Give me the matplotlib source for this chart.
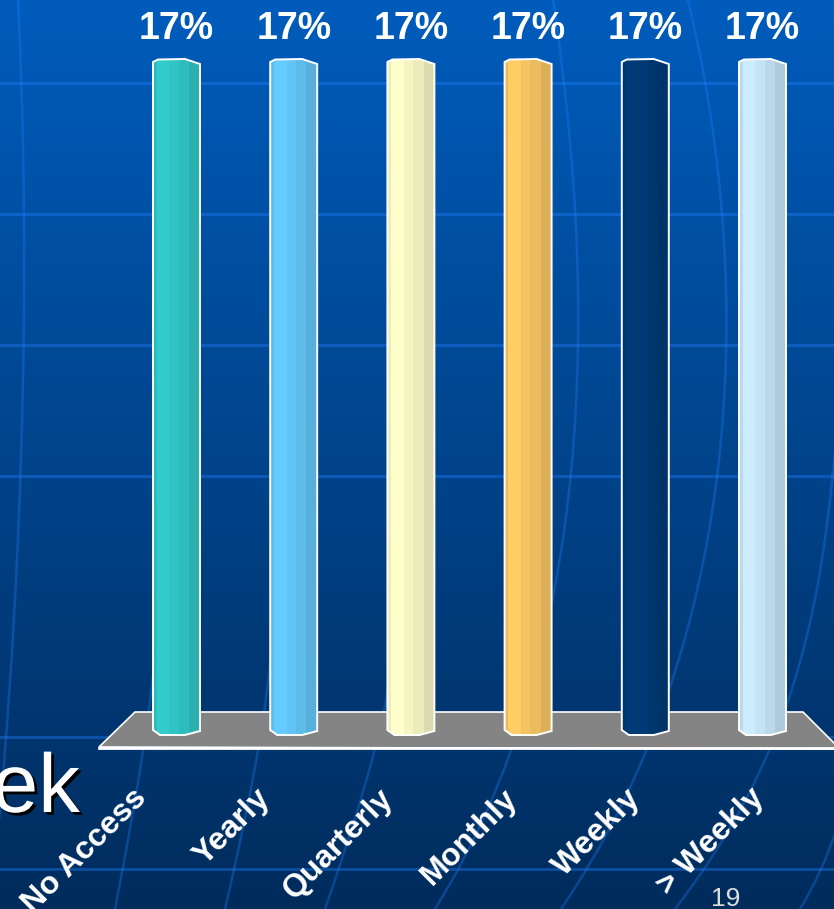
import matplotlib
matplotlib.use("Agg")
import matplotlib.pyplot as plt
import matplotlib.patheffects as pe
from matplotlib.patches import Polygon, PathPatch
from matplotlib.path import Path
from matplotlib.colors import to_rgb
import numpy as np

# ----------------------------------------------------------------------------------------------------------------------
categories = ['No Access', 'Yearly', 'Quarterly', 'Monthly', 'Weekly', '> Weekly']
percent = [17, 17, 17, 17, 17, 17]
bar_colors = ['#33CCCC', '#66CCFF', '#FFFFCC', '#FFCC66', '#003B78', '#CCECFF']
# ----------------------------------------------------------------------------------------------------------------------

W, H = 834, 909
FONT = 'Liberation Sans'

fig = plt.figure(figsize=(W / 100, H / 100), dpi=100)

# slide background, in pixel units
bg = fig.add_axes([0, 0, 1, 1])
bg.set_xlim(0, W)
bg.set_ylim(H, 0)
bg.axis('off')

top_col = np.array([0, 92, 188]) / 255
bot_col = np.array([0, 44, 92]) / 255
t = np.linspace(0, 1, 256)[:, None, None]
bg.imshow(top_col + (bot_col - top_col) * t, extent=[0, W, H, 0], aspect='auto',
          interpolation='bilinear', zorder=0)

# horizontal lines of the backdrop grid
for y in [83, 214, 345, 476, 737, 869]:
    bg.plot([0, W], [y, y], color='#2080ff', alpha=0.38, lw=2.2, zorder=1)

# curved "meridian" lines of the backdrop
meridians = [
    [(18, 0), (32, 280), (22, 620), (-10, 909)],
    [(156, 640), (152, 700), (140, 780), (115, 909)],
    [(272, 640), (268, 700), (255, 780), (225, 909)],
    [(395, 640), (390, 700), (370, 780), (325, 909)],
    [(553, 0), (598, 300), (596, 650), (435, 909)],
    [(688, 0), (760, 300), (738, 650), (561, 909)],
    [(835, 450), (820, 620), (790, 760), (675, 909)],
    [(860, 720), (850, 800), (830, 860), (800, 909)],
]
for pts in meridians:
    path = Path(pts, [Path.MOVETO, Path.CURVE4, Path.CURVE4, Path.CURVE4])
    bg.add_patch(PathPatch(path, fill=False, edgecolor='#2080ff', alpha=0.32, lw=1.8, zorder=1))

# floor of the chart
bg.add_patch(Polygon([(135, 712), (803, 712), (840, 749), (99, 747)], closed=True,
                     facecolor='#848484', edgecolor='white', lw=1.2, zorder=2))
bg.plot([99, W], [748, 748], color='white', lw=2, zorder=2)

# left-over part of the slide title and the slide number
bg.text(80, 812, 'ek', fontsize=60, family=FONT, color='white', ha='right', va='baseline', zorder=3,
        path_effects=[pe.withSimplePatchShadow(offset=(2, -2), shadow_rgbFace='black', alpha=1.0)])
bg.text(726, 906, '19', fontsize=19, family=FONT, color='#DDDDDD', ha='center', va='baseline', zorder=3)

# ----------------------------------------------------------------------------------------------------------------------
# bar axes: value 0 sits at 730 px, value 17 at 62 px from the top
x_left, px_per_unit = 117.9, 117.2
y_zero, y_top = 730, 62
sx = 1 / px_per_unit
sy = 17 / (y_zero - y_top)
ax_top, ax_bot = 30, 750
ax = fig.add_axes([x_left / W, (H - ax_bot) / H, 6 * px_per_unit / W, (ax_bot - ax_top) / H])
ax.set_xlim(-0.5, 5.5)
ax.set_ylim(-(ax_bot - y_zero) * sy, 17 + (y_top - ax_top) * sy)
ax.set_axis_off()

bar_px = 47
w = bar_px * sx
# vertical facets of each column: (start, end, brightness)
strips = [(0.00, 0.08, 0.92), (0.08, 0.35, 1.00), (0.35, 0.55, 0.96),
          (0.55, 0.77, 0.92), (0.77, 1.00, 0.86)]


def shade(c, f):
    r, g, b = to_rgb(c)
    return (r * f, g * f, b * f)


for i, (val, col) in enumerate(zip(percent, bar_colors)):
    x0 = i - w / 2
    top_pts = [(0, 0), (5, 2.5), (32, 3), (47, -2)]
    bot_pts = [(47, -1), (32, -5), (7, -5), (0, 0)]
    verts = [(x0 + a * sx, val + b * sy) for a, b in top_pts] + \
            [(x0 + a * sx, b * sy) for a, b in bot_pts]
    outline = Polygon(verts, closed=True, fill=False, edgecolor='white', lw=1.4, zorder=5)
    ax.add_patch(outline)

    for f0, f1, fac in strips:
        xc = x0 + (f0 + f1) / 2 * w
        for b, h in [(0, val), (val, 4 * sy), (-6 * sy, 6 * sy)]:
            r = ax.bar(xc, h, bottom=b, width=(f1 - f0) * w, color=shade(col, fac),
                       lw=0, antialiased=False, zorder=3)[0]
            r.set_clip_path(outline)

    ax.annotate(f'{val}%', xy=(i, val), xytext=(0, 16.5), textcoords='offset points',
                ha='center', va='baseline', fontsize=27, fontweight='bold',
                color='white', family=FONT)

# category labels run along the front edge of the floor
lab = fig.add_axes([70.0 / W, (H - 783) / H, 740.4 / W, 0.0001])
lab.set_xlim(-0.5, 5.5)
lab.set_xticks(range(len(categories)))
lab.set_xticklabels(categories, rotation=45, ha='right', va='top', rotation_mode='anchor',
                    fontsize=23, fontweight='bold', color='white', family=FONT)
lab.tick_params(length=0, pad=0)
lab.set_yticks([])
for s in lab.spines.values():
    s.set_visible(False)
lab.patch.set_visible(False)

fig.savefig('out.png', dpi=100)
